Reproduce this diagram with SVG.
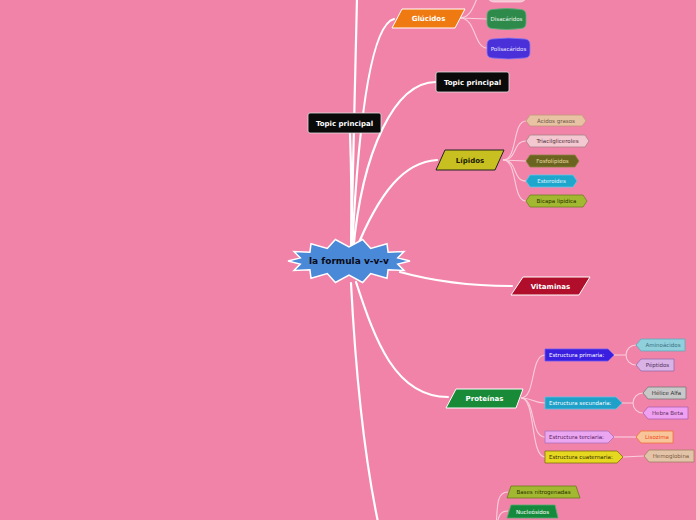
<svg xmlns="http://www.w3.org/2000/svg" width="696" height="520" viewBox="0 0 696 520">
<style>
.main{fill:none;stroke:#ffffff;stroke-width:2.2;stroke-linecap:round}
.sub{fill:none;stroke:#f9cfdc;stroke-width:1.1}
.tb{font-family:"DejaVu Sans","Liberation Sans",sans-serif;font-weight:bold;font-size:7px;text-anchor:middle}
.ts{font-family:"DejaVu Sans","Liberation Sans",sans-serif;font-size:5.5px;text-anchor:middle}
.tl{font-family:"DejaVu Sans","Liberation Sans",sans-serif;font-size:5.5px;text-anchor:start}
.w{fill:#ffffff}
</style>
<rect x="0" y="0" width="696" height="520" fill="#f283a8"/>

<g id="connectors">
  <path class="main" d="M351,255 C353,170 355,80 357,-2"/>
  <path class="main" d="M352,252 C358,130 370,25 394,19"/>
  <path class="main" d="M351,252 C352,200 351,160 350,133"/>
  <path class="main" d="M353,252 C362,150 395,82 436,82"/>
  <path class="main" d="M355,252 C380,190 405,162 437,160"/>
  <path class="main" d="M400,272 C440,283 480,286 512,286"/>
  <path class="main" d="M356,282 C375,340 395,397 448,397"/>
  <path class="main" d="M351,283 C356,380 365,460 378,522"/>

  <path class="sub" d="M460,18 C476,18 474,-10 487,-10"/>
  <path class="sub" d="M460,18 C472,18 476,19 487,19"/>
  <path class="sub" d="M460,18 C476,18 474,48 487,48"/>

  <path class="sub" d="M503,160 C518,160 512,121 526,121"/>
  <path class="sub" d="M503,160 C518,160 512,141 526,141"/>
  <path class="sub" d="M503,160 L526,161"/>
  <path class="sub" d="M503,160 C518,160 512,181 526,181"/>
  <path class="sub" d="M503,160 C518,160 512,201 526,201"/>

  <path class="sub" d="M521,398 C536,398 530,355 545,355"/>
  <path class="sub" d="M521,398 C533,398 533,403 545,403"/>
  <path class="sub" d="M521,398 C536,398 530,437 545,437"/>
  <path class="sub" d="M521,398 C536,398 530,457 545,457"/>

  <path class="sub" d="M614,355 L626,355 M636,345 A10,10 0 0 0 636,365"/>
  <path class="sub" d="M622,403 L633,403 M643,393 A10,10 0 0 0 643,413"/>
  <path class="sub" d="M614,437 L636,437"/>
  <path class="sub" d="M623,457 L644,456"/>

  <path class="sub" d="M496,532 C497,500 498,492 508,492"/>
  <path class="sub" d="M496,532 C498,515 500,511 508,511"/>
</g>

<g id="root">
  <polygon points="410,261 397.75,264.1 404,270.5 388.1,269.7 387,278.2 370.7,273.6 362.6,282.5 349,275 335.4,282.5 327.3,273.6 311,278.2 309.9,269.7 294,270.5 300.25,264.1 288,261 300.25,257.9 294,251.5 309.9,252.3 311,243.8 327.3,248.4 335.4,239.5 349,247 362.6,239.5 370.7,248.4 387,243.8 388.1,252.3 404,251.5 397.75,257.9" fill="#4a88d8" stroke="#ffffff" stroke-width="1.5" stroke-linejoin="miter"/>
  <text x="349" y="264" font-family="DejaVu Sans, Liberation Sans, sans-serif" font-weight="bold" font-size="9" text-anchor="middle" fill="#0a0a14">la formula v-v-v</text>
</g>

<g id="node-top-hidden">
  <rect x="487" y="-20" width="40" height="22" rx="7" fill="#f4c4d2" stroke="#f8dde6" stroke-width="0.8"/>
</g>

<g id="glucidos">
  <polygon points="402,9 465,9 455,28 392,28" fill="#f07a12" stroke="#ffffff" stroke-width="1"/>
  <text class="tb w" x="428.5" y="21">Glúcidos</text>
</g>
<g id="disacaridos">
  <path d="M487,15 Q487,10 492,9.5 Q506.5,7.5 521,9.5 Q526,10 526,15 L526,23 Q526,28 521,28.5 Q506.5,30.5 492,28.5 Q487,28 487,23 Z" fill="#2e8a4a" stroke="#5cb07a" stroke-width="0.8"/>
  <text class="ts" x="506.5" y="21" fill="#e8f4ec">Disacáridos</text>
</g>
<g id="polisacaridos">
  <path d="M487,44.5 Q487,39.5 492,39 Q508.5,37 525,39 Q530,39.5 530,44.5 L530,52.5 Q530,57.5 525,58 Q508.5,60 492,58 Q487,57.5 487,52.5 Z" fill="#4a30d8" stroke="#8a7af0" stroke-width="0.8"/>
  <text class="ts" x="508.5" y="50.5" fill="#e6e2ff">Polisacáridos</text>
</g>

<g id="topic-right">
  <rect x="436" y="72" width="73" height="20" rx="2" fill="#0a0a0a" stroke="#dddddd" stroke-width="0.8"/>
  <text class="tb w" x="472.5" y="84.5">Topic principal</text>
</g>
<g id="topic-left">
  <rect x="308" y="113" width="73" height="20" rx="2" fill="#0a0a0a" stroke="#dddddd" stroke-width="0.8"/>
  <text class="tb w" x="344.5" y="125.5">Topic principal</text>
</g>

<g id="lipidos">
  <polygon points="445,150 504,150 495,170 436,170" fill="#c8c020" stroke="#222222" stroke-width="1"/>
  <text class="tb" x="470" y="162.5" fill="#1a1a00">Lípidos</text>
</g>
<g id="acidos-grasos">
  <polygon points="526,121 530,115 582,115 586,121 582,126 530,126" fill="#e8c2a2" stroke="#c09878" stroke-width="0.8"/>
  <text class="ts" x="556" y="123" fill="#6a5848">Ácidos grasos</text>
</g>
<g id="triacilgliceroles">
  <polygon points="526,141 530,135 585,135 589,141 585,147 530,147" fill="#f4c8d0" stroke="#a88088" stroke-width="0.8"/>
  <text class="ts" x="557.5" y="143" fill="#503038">Triacilgliceroles</text>
</g>
<g id="fosfolipidos">
  <polygon points="526,161 530,155 575,155 579,161 575,167 530,167" fill="#6b6420" stroke="#8a8440" stroke-width="0.8"/>
  <text class="ts" x="552.5" y="163" fill="#e8dca0">Fosfolípidos</text>
</g>
<g id="esteroides">
  <polygon points="526,181 530,175 573,175 577,181 573,187 530,187" fill="#1ea6cc" stroke="#60c8e8" stroke-width="0.8"/>
  <text class="ts" x="551.5" y="183" fill="#e0f6ff">Esteroides</text>
</g>
<g id="bicapa-lipidica">
  <polygon points="526,201 530,195 583,195 587,201 583,207 530,207" fill="#a2b830" stroke="#708020" stroke-width="0.8"/>
  <text class="ts" x="556.5" y="203" fill="#283000">Bicapa lipidica</text>
</g>

<g id="vitaminas">
  <polygon points="523,277 590,277 579,295 511,295" fill="#b00e2a" stroke="#ffffff" stroke-width="1"/>
  <text class="tb w" x="550.5" y="288.5">Vitaminas</text>
</g>

<g id="proteinas">
  <polygon points="456,389 523,389 516,408 446,408" fill="#188a38" stroke="#ffffff" stroke-width="1"/>
  <text class="tb w" x="484.5" y="401">Proteínas</text>
</g>
<g id="estructura-primaria">
  <polygon points="545,349 608,349 614,355 608,361 545,361" fill="#3a1fe0" stroke="#6a5af0" stroke-width="0.8"/>
  <text class="tl w" x="549" y="357">Estructura primaria:</text>
</g>
<g id="estructura-secundaria">
  <polygon points="545,397 616,397 622,403 616,409 545,409" fill="#1ea0c8" stroke="#60c0e0" stroke-width="0.8"/>
  <text class="tl w" x="549" y="405">Estructura secundaria:</text>
</g>
<g id="estructura-terciaria">
  <polygon points="545,431 608,431 614,437 608,443 545,443" fill="#eaa6f0" stroke="#b070b8" stroke-width="0.8"/>
  <text class="tl" x="549" y="439" fill="#5a2060">Estructura terciaria:</text>
</g>
<g id="estructura-cuaternaria">
  <polygon points="545,451 617,451 623,457 617,463 545,463" fill="#e6d820" stroke="#807010" stroke-width="0.8"/>
  <text class="tl" x="549" y="459" fill="#302a00">Estructura cuaternaria:</text>
</g>
<g id="aminoacidos">
  <polygon points="636,345 641,339 685,339 685,351 641,351" fill="#8fd0dc" stroke="#60a8b8" stroke-width="0.8"/>
  <text class="ts" x="663" y="347" fill="#3d6f80">Aminoácidos</text>
</g>
<g id="peptidos">
  <polygon points="636,365 641,359 674,359 674,371 641,371" fill="#d9b3e6" stroke="#9a6aa8" stroke-width="0.8"/>
  <text class="ts" x="657.5" y="367" fill="#50305a">Péptidos</text>
</g>
<g id="helice-alfa">
  <polygon points="643,393 648,387 686,387 686,399 648,399" fill="#c8c8c8" stroke="#777777" stroke-width="0.8"/>
  <text class="ts" x="666.5" y="395" fill="#333333">Hélice Alfa</text>
</g>
<g id="hebra-beta">
  <polygon points="643,413 648,407 688,407 688,419 648,419" fill="#f0a0f0" stroke="#b060b0" stroke-width="0.8"/>
  <text class="ts" x="667.5" y="415" fill="#603060">Hebra Beta</text>
</g>
<g id="lisozima">
  <polygon points="636,437 641,431 673,431 673,443 641,443" fill="#f8c59b" stroke="#f07030" stroke-width="0.8"/>
  <text class="ts" x="657" y="439" fill="#f04818">Lisozima</text>
</g>
<g id="hemoglobina">
  <polygon points="644,456 649,450 694,450 694,462 649,462" fill="#e4c4a8" stroke="#a08060" stroke-width="0.8"/>
  <text class="ts" x="671" y="458" fill="#7a5a40">Hemoglobina</text>
</g>

<g id="bases-nitrogenadas">
  <polygon points="511,486 576,486 580,498 507,498" fill="#a2b830" stroke="#6a7a20" stroke-width="0.8"/>
  <text class="ts" x="543.5" y="494" fill="#283000">Bases nitrogenadas</text>
</g>
<g id="nucleosidos">
  <polygon points="511,505 555,505 558,518 507,518" fill="#168a3c" stroke="#50b070" stroke-width="0.8"/>
  <text class="ts w" x="532.5" y="513.5">Nucleósidos</text>
</g>
</svg>
